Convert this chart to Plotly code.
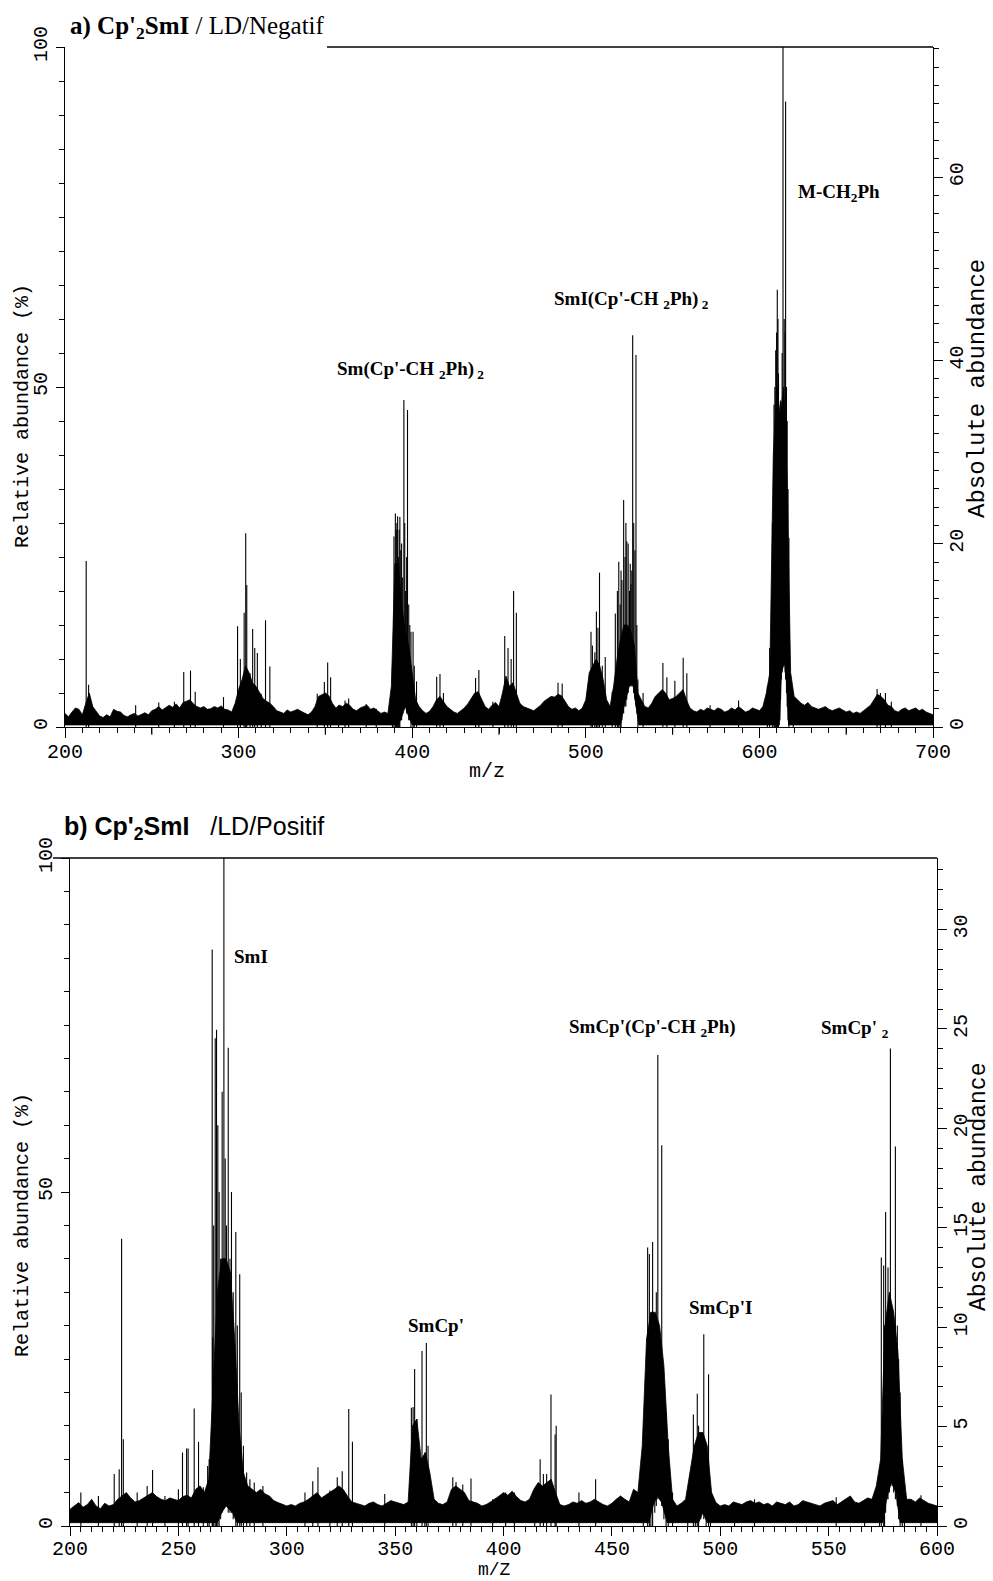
import plotly.graph_objects as go
import numpy as np

W, H = 993, 1581

# ---------------- Panel a : Cp'2SmI / LD / negative ----------------
# upper edge of the noise band (relative abundance %), every 2 m/z from 200 to 700
a_band_start, a_band_step = 200, 2
a_band_top = [
    2.0, 1.5, 2.2, 2.8, 2.6, 1.8, 3.5, 5.0, 3.0, 2.2,
    1.6, 1.4, 1.8, 1.5, 2.6, 2.3, 2.2, 1.7, 1.5, 1.8,
    2.0, 1.6, 1.9, 2.1, 1.8, 2.4, 2.6, 3.0, 2.5, 2.8,
    3.2, 2.9, 3.4, 2.8, 3.6, 3.8, 4.0, 3.4, 3.0, 2.8,
    3.0, 2.6, 2.7, 3.0, 2.8, 3.1, 2.6, 2.5, 2.2, 3.5,
    5.5, 7.0, 9.0, 8.0, 6.5, 6.0, 5.0, 4.2, 3.8, 3.5,
    3.0, 2.4, 2.2, 2.0, 2.5, 2.2, 2.4, 2.6, 2.3, 2.0,
    1.8, 2.2, 3.0, 4.5, 4.8, 5.0, 4.6, 3.5, 2.8, 3.2,
    3.0, 3.5, 3.2, 2.6, 2.4, 2.8, 3.0, 3.2, 2.6, 2.8,
    2.4, 2.0, 2.2, 2.0, 6.0, 24.0, 24.0, 18.0, 14.0, 12.0,
    8.0, 4.0, 3.0, 2.4, 2.0, 2.3, 3.0, 4.0, 4.5, 3.8,
    3.0, 2.6, 2.2, 2.0, 2.4, 2.8, 3.4, 4.2, 5.0, 5.2,
    4.0, 3.0, 2.6, 3.2, 3.6, 3.0, 5.0, 7.5, 6.0, 6.5,
    5.0, 3.5, 3.0, 2.8, 2.6, 2.4, 2.8, 3.2, 3.8, 4.2,
    4.5, 4.4, 4.8, 4.6, 3.8, 3.0, 2.6, 2.8, 2.4, 2.8,
    4.0, 8.0, 9.0, 10.0, 9.0, 7.0, 4.0, 3.0, 6.0, 10.0,
    13.0, 15.0, 15.0, 14.0, 12.0, 5.0, 4.0, 3.0, 2.8, 3.5,
    4.5, 5.0, 5.5, 5.0, 4.0, 4.2, 4.5, 5.0, 5.5, 4.0,
    2.8, 2.4, 2.2, 2.6, 2.4, 2.8, 2.6, 2.4, 2.8, 2.6,
    2.2, 2.4, 2.8, 2.5, 3.0, 2.6, 2.2, 2.4, 2.8, 2.6,
    2.4, 3.0, 5.0, 8.0, 40.0, 50.0, 46.0, 50.0, 36.0, 8.0,
    4.5, 4.0, 3.5, 3.2, 3.6, 3.0, 2.8, 2.6, 2.8, 3.0,
    2.6, 2.4, 2.6, 2.8, 2.5, 2.2, 2.4, 2.0, 2.2, 2.0,
    2.4, 2.8, 3.2, 4.0, 4.8, 4.5, 4.0, 3.2, 3.0, 2.4,
    2.2, 2.6, 2.8, 2.4, 2.6, 2.8, 2.4, 2.6, 2.2, 2.0,
    1.8,
]
# lower edge of the band (m/z, %)
a_band_low = [
    (200, 0.3), (392, 0.3), (394, 1.5), (396, 3.0), (398, 1.5), (400, 0.3),
    (520, 0.3), (522, 3.0), (525, 6.0), (527, 6.5), (529, 3.0), (530.5, 0.3),
    (611.5, 0.3), (612.7, 8.0), (614.5, 9.5), (615.8, 6.0), (616.8, 0.3), (700, 0.3),
]
# individual peaks (m/z, relative abundance %, foot of the stick %)
a_peaks = [
    (212.2, 24.4, 0), (213.6, 6.2, 0), (240.7, 3.2, 0), (254, 3.6, 0), (263, 3.7, 0),
    (268.4, 8.1, 0), (272.3, 8.3, 0), (275, 5.2, 0), (291.3, 4.4, 0),
    (299.4, 14.8, 0), (301, 10, 0), (303.2, 16.8, 0), (304.1, 28.5, 0), (304.7, 20.9, 0),
    (306.6, 7.9, 0), (308.1, 14.4, 0), (309.3, 11.6, 0), (310.8, 10.9, 0), (313, 4.9, 0),
    (315.5, 15.7, 0), (318, 8.9, 0),
    (345.3, 4.9, 0), (349.4, 6.6, 0), (351.3, 9.5, 0), (353, 7.3, 0), (357.6, 3.2, 0),
    (361.3, 3.9, 0), (363.4, 4.2, 0), (373.5, 3.4, 0), (379.3, 2.7, 0),
    (388.6, 8.9, 0), (389.5, 28, 0), (390.3, 31.4, 0), (390.8, 29, 0), (391.2, 30, 0),
    (391.6, 31, 0), (392.0, 25, 0), (392.5, 29, 0), (392.9, 30.9, 0), (393.4, 26, 1),
    (393.9, 27, 1), (394.5, 22, 2), (395.2, 48.1, 3), (395.7, 30, 3), (396.2, 20, 3),
    (396.8, 25, 2), (397.3, 46.6, 2), (398.0, 18, 1), (398.6, 15, 1), (399.3, 14, 0),
    (400.5, 14, 0), (401.2, 9, 0), (402.5, 6.7, 0),
    (414.1, 7.4, 0), (416, 7.8, 0), (418, 5, 0), (436.5, 7.2, 0), (438.4, 8.4, 0), (446.5, 3.7, 0),
    (453.3, 13.4, 0), (455.2, 11.6, 0), (457, 10, 0), (458.4, 20, 0), (460, 16.8, 0),
    (484, 6.5, 0), (486.4, 6.4, 0),
    (503, 14, 0), (503.8, 12, 0), (505.2, 11, 0), (506.1, 17, 0), (507, 14.6, 0),
    (507.9, 22.7, 0), (509.5, 9, 0), (511.2, 10.3, 0), (515.2, 5.2, 0),
    (517, 16.7, 0), (518.2, 20, 0), (519, 24.3, 0), (519.8, 18, 0), (520.3, 23, 0),
    (520.8, 21.6, 1), (521.8, 33.4, 2), (522.6, 25, 3), (523.1, 30, 3), (523.6, 27.3, 4),
    (524.4, 27, 5), (525.2, 20, 6), (525.6, 24, 6), (526, 21, 6), (526.5, 23, 6),
    (527, 57.6, 6), (527.6, 30, 5), (528.3, 26, 4), (528.9, 54.7, 3), (529.4, 15, 2),
    (530, 7, 0), (533, 5, 0),
    (544.4, 9.4, 0), (546.7, 7.3, 0), (551.3, 6.8, 0), (556.1, 10.2, 0), (558.2, 7.9, 0),
    (571.6, 3.2, 0), (588, 3.9, 0),
    (604.6, 6, 0), (605.9, 11.6, 0), (607.5, 30, 0), (608.4, 47.4, 0), (608.9, 50, 0),
    (609.4, 55.4, 0), (609.9, 58, 0), (610.3, 64.3, 0), (610.7, 60, 0), (611, 52, 0),
    (611.8, 45, 1), (612.2, 48, 4), (612.6, 40, 7), (613.1, 55, 8), (613.6, 100, 9),
    (614.3, 60, 9), (614.8, 58, 8), (615.1, 92, 7), (615.6, 50, 5), (616, 45, 3),
    (616.5, 35, 1), (617, 27.8, 0), (619.5, 5, 0),
    (667.8, 5.6, 0), (669.7, 5, 0), (672.6, 5, 0), (676, 3.7, 0),
]
a_labels = [
    ("Sm(Cp'-CH <sub>2</sub>Ph)<sub> 2</sub>", 335, 370),
    ("SmI(Cp'-CH <sub>2</sub>Ph)<sub> 2</sub>", 552, 300),
    ("M-CH<sub>2</sub>Ph", 796, 193),
]

# ---------------- Panel b : Cp'2SmI / LD / positive ----------------
b_band_start, b_band_step = 200, 2
b_band_top = [
    2.5, 3.0, 3.5, 2.8, 3.2, 4.0, 3.0, 2.6, 3.4, 3.0,
    3.2, 4.0, 4.5, 5.0, 4.2, 3.6, 3.8, 4.2, 4.6, 5.0,
    4.4, 4.0, 3.8, 4.2, 4.0, 3.8, 4.4, 4.6, 4.2, 5.5,
    6.0, 5.0, 7.0, 20.0, 35.0, 40.0, 40.0, 38.0, 28.0, 15.0,
    8.0, 6.0, 5.5, 5.0, 5.5, 4.8, 4.5, 3.8, 3.5, 3.2,
    3.0, 3.2, 3.0, 3.4, 3.6, 4.0, 4.5, 5.0, 4.2, 4.6,
    5.0, 5.5, 6.0, 5.5, 4.5, 3.6, 3.4, 3.2, 3.0, 3.4,
    3.6, 3.2, 3.0, 3.4, 3.8, 3.6, 3.4, 3.2, 3.6, 15.0,
    16.0, 10.0, 11.0, 8.0, 4.0, 3.4, 3.2, 3.6, 5.5, 6.0,
    5.5, 5.0, 3.8, 3.6, 3.4, 3.0, 3.2, 3.6, 4.0, 4.5,
    5.0, 4.6, 5.2, 4.4, 3.8, 3.6, 4.0, 5.5, 6.5, 6.0,
    6.5, 7.0, 5.0, 3.2, 3.0, 3.2, 3.6, 3.4, 3.8, 3.4,
    3.6, 4.0, 3.6, 3.2, 3.0, 3.4, 4.0, 4.5, 4.0, 3.6,
    5.5, 5.0, 12.0, 28.0, 32.0, 32.0, 30.0, 24.0, 12.0, 4.0,
    3.0, 3.4, 4.0, 8.0, 12.0, 14.0, 14.0, 12.0, 5.0, 3.5,
    3.0, 3.2, 3.0, 3.6, 3.4, 3.2, 3.6, 3.8, 3.4, 3.6,
    3.2, 3.4, 3.0, 3.6, 3.4, 3.2, 3.6, 3.0, 3.2, 3.8,
    3.6, 3.4, 3.2, 3.0, 3.4, 3.6, 3.8, 3.2, 3.6, 4.0,
    4.5, 3.6, 3.4, 3.8, 4.2, 4.0, 6.0, 10.0, 30.0, 35.0,
    32.0, 26.0, 10.0, 4.0, 4.0, 3.6, 4.2, 3.8, 3.4, 3.2,
    3.0,
]
b_band_low = [
    (200, 0.5), (268, 0.5), (270, 2.0), (272, 3.0), (275, 2.0), (277, 0.5),
    (467, 0.5), (469, 3.0), (471, 4.5), (473, 3.5), (475.5, 0.5),
    (490, 0.5), (492, 2.0), (494, 0.5),
    (575, 0.5), (577, 4.5), (579, 6.5), (581, 5.0), (583, 0.5), (600, 0.5),
]
b_peaks = [
    (205, 5, 0), (213.1, 4.5, 0), (220.4, 7.8, 0), (222.7, 8.5, 0), (223.8, 43, 0), (224.6, 13, 0),
    (231, 5, 0), (235.6, 6, 0), (238.1, 8.4, 0), (243.8, 4.5, 0), (250, 5.5, 0), (251.9, 11, 0),
    (253.8, 11.6, 0), (254.5, 11.6, 0), (257.3, 17.6, 0), (259.3, 12.6, 0), (261.5, 5.8, 0),
    (263.5, 9, 0), (264.2, 10, 0),
    (265.6, 86.3, 0), (265.8, 28.2, 0), (266.3, 45, 0), (267, 73, 0), (267.6, 74.3, 0),
    (268.2, 60, 0), (268.8, 50, 0), (269.5, 40, 1), (270.2, 65, 2), (271, 100, 3),
    (271.6, 55, 3), (272.2, 45, 3), (273, 71.6, 2), (273.8, 40, 2), (274.5, 50, 2),
    (275.3, 35, 1), (276.5, 44, 0), (277.2, 30, 0), (278.3, 37.7, 0), (279, 20, 0),
    (280, 12, 0), (281.5, 8, 0), (283, 7, 0), (285, 6.5, 0), (289, 6, 0),
    (308.4, 5, 0), (312, 6.7, 0), (314.4, 8.8, 0), (319.9, 5.3, 0), (323.3, 7.3, 0),
    (325.6, 8.2, 0), (328.6, 17.5, 0), (330.3, 12.6, 0), (345.2, 4.8, 0),
    (357.5, 17.7, 0), (358.3, 17.8, 0), (359, 23.5, 0), (360, 16, 0), (362.4, 26.2, 0),
    (363.7, 11, 0), (364.4, 27.4, 0), (365.2, 12, 0), (376.6, 7.3, 0), (378.1, 6.6, 0),
    (381.2, 6.2, 0), (385, 7.1, 0), (395, 4, 0),
    (401, 5, 0), (405, 5, 0), (414.4, 5.5, 0), (416.9, 10, 0), (418.4, 7.8, 0), (419.9, 7.8, 0),
    (421.9, 19.7, 0), (423.8, 13.7, 0), (424.3, 15, 0), (434.8, 5, 0), (442.5, 7, 0),
    (464.5, 8, 0), (466.5, 41.7, 0), (467.3, 40.7, 0), (468, 32, 0), (468.8, 42.5, 0),
    (469.8, 30, 2), (470.5, 35, 3), (471.2, 70.5, 4), (472, 25, 4), (473, 57, 3),
    (474, 20, 1), (475, 17, 0), (476, 13, 0), (478, 5, 0), (485, 4.5, 0),
    (487.6, 16.7, 0), (488.5, 12, 0), (489.4, 19.8, 0), (490, 15, 0), (491, 10, 1),
    (492.4, 28.7, 1), (493.5, 12, 0), (494.6, 22.7, 0), (495.5, 5, 0),
    (506.6, 3.5, 0), (515.8, 4, 0), (553.5, 4.3, 0), (566.6, 3.8, 0),
    (573.5, 7.3, 0), (574.3, 40.2, 0), (575.4, 39, 0), (575.8, 30, 0), (576.3, 47, 2),
    (577, 30, 4), (577.4, 38.7, 4), (578, 25, 5), (578.5, 71.5, 6), (579.3, 30, 6),
    (580, 25, 5), (580.8, 56.8, 4), (581.7, 30, 3), (582.3, 25, 1), (583, 20, 0),
    (584, 10, 0), (585, 4, 0), (592.6, 4.6, 0),
]
b_labels = [
    ("SmI", 232, 956),
    ("SmCp'", 406, 1325),
    ("SmCp'(Cp'-CH <sub>2</sub>Ph)", 567, 1028),
    ("SmCp' <sub>2</sub>", 819, 1029),
    ("SmCp'I", 687, 1307),
]

# axis scales
a_xrange, a_rel, a_abs = [200, 700], [0, 100], [0, 74.2]
b_xrange, b_rel, b_abs = [200, 600], [0, 100], [0, 33.6]
a_mid_ticks = [250, 350, 450, 550, 650]


# ---------------- build figure ----------------
def band_polygon(start, step, top, low):
    xs = list(start + step * np.arange(len(top)))
    ys = list(top)
    xs += [p[0] for p in low][::-1]
    ys += [p[1] for p in low][::-1]
    return xs, ys


def stick_path(peaks):
    xs, ys = [], []
    for m, h, b in peaks:
        xs += [m, m, None]
        ys += [b, h, None]
    return xs, ys


fig = go.Figure()
for (start, step, top, low, peaks, xa, ya) in [
    (a_band_start, a_band_step, a_band_top, a_band_low, a_peaks, "x", "y"),
    (b_band_start, b_band_step, b_band_top, b_band_low, b_peaks, "x2", "y3"),
]:
    bx, by = band_polygon(start, step, top, low)
    fig.add_trace(go.Scatter(x=bx, y=by, mode="lines", fill="toself", fillcolor="black",
                             line=dict(color="black", width=0.8), xaxis=xa, yaxis=ya,
                             hoverinfo="skip", showlegend=False))
    sx, sy = stick_path(peaks)
    fig.add_trace(go.Scatter(x=sx, y=sy, mode="lines", line=dict(color="black", width=1.1),
                             xaxis=xa, yaxis=ya, hoverinfo="skip", showlegend=False))

# dummy traces so the right-hand (absolute) axes are drawn
fig.add_trace(go.Scatter(x=[200], y=[0], mode="markers", marker=dict(opacity=0),
                         xaxis="x", yaxis="y2", hoverinfo="skip", showlegend=False))
fig.add_trace(go.Scatter(x=[200], y=[0], mode="markers", marker=dict(opacity=0),
                         xaxis="x2", yaxis="y4", hoverinfo="skip", showlegend=False))

TICKF = dict(family="Liberation Mono", size=20, color="black")
common = dict(showline=True, linecolor="black", linewidth=1.3, ticks="outside",
              tickcolor="black", tickwidth=1.2, showgrid=False, zeroline=False,
              tickfont=TICKF, automargin=False)


def minor(d, t0=0):
    return dict(dtick=d, tick0=t0, ticklen=5, ticks="outside", tickcolor="black",
                tickwidth=1.1, showgrid=False)


TX = [65 / W, 933 / W]
TY = [1 - 727 / H, 1 - 47 / H]
BX = [70 / W, 937 / W]
BY = [1 - 1526 / H, 1 - 858 / H]

fig.update_layout(
    width=W, height=H, margin=dict(l=0, r=0, t=0, b=0, autoexpand=False),
    paper_bgcolor="white", plot_bgcolor="white", showlegend=False,
    xaxis=dict(domain=TX, anchor="y", range=a_xrange, dtick=100, tick0=200,
               ticklen=10, ticklabelstandoff=-4, minor=minor(10, 200), **common),
    yaxis=dict(domain=TY, anchor="x", range=a_rel, tickvals=[0, 50, 100], tickangle=-90,
               ticklen=8, ticklabelstandoff=1, minor=minor(5), **common),
    yaxis2=dict(overlaying="y", side="right", anchor="x", range=a_abs,
                tickvals=[0, 20, 40, 60], tickangle=-90, ticklen=9, ticklabelstandoff=-4,
                minor=minor(2), **common),
    xaxis2=dict(domain=BX, anchor="y3", range=b_xrange, dtick=50, tick0=200, ticklen=9,
                ticklabelstandoff=-5, minor=minor(5, 200), **common),
    yaxis3=dict(domain=BY, anchor="x2", range=b_rel, tickvals=[0, 50, 100], tickangle=-90,
                ticklen=8, ticklabelstandoff=1, minor=minor(5), **common),
    yaxis4=dict(overlaying="y3", side="right", anchor="x2", range=b_abs,
                tickvals=[0, 5, 10, 15, 20, 25, 30], tickangle=-90, ticklen=9,
                ticklabelstandoff=-4, minor=minor(1), **common),
)

# medium-length ticks at the 50s of panel a
for v in a_mid_ticks:
    fig.add_shape(type="line", xref="x", yref="y domain", x0=v, x1=v, y0=0, y1=-0.0115,
                  line=dict(color="black", width=1.2))

# frame top lines
fig.add_shape(type="line", xref="paper", yref="paper", x0=327 / W, x1=933 / W,
              y0=1 - 47 / H, y1=1 - 47 / H, line=dict(color="black", width=1.3))
fig.add_shape(type="line", xref="paper", yref="paper", x0=53 / W, x1=937 / W,
              y0=1 - 858 / H, y1=1 - 858 / H, line=dict(color="black", width=1.3))

ann = []
MONO = "Liberation Mono"
# axis titles
ann.append(dict(text="Relative abundance (%)", x=22 / W, y=1 - 416 / H, textangle=-90,
                font=dict(family=MONO, size=20, color="black")))
ann.append(dict(text="Absolute abundance", x=977 / W, y=1 - 389 / H, textangle=-90,
                font=dict(family=MONO, size=24, color="black")))
ann.append(dict(text="m/z", x=487 / W, y=1 - 771 / H,
                font=dict(family=MONO, size=20, color="black")))
ann.append(dict(text="Relative abundance (%)", x=22 / W, y=1 - 1225 / H, textangle=-90,
                font=dict(family=MONO, size=20, color="black")))
ann.append(dict(text="Absolute abundance", x=979 / W, y=1 - 1187 / H, textangle=-90,
                font=dict(family=MONO, size=23, color="black")))
ann.append(dict(text="m/Z", x=494 / W, y=1 - 1570 / H,
                font=dict(family=MONO, size=18, color="black")))
# panel titles
ann.append(dict(text="<b>a) Cp'<sub>2</sub>SmI</b> / LD/Negatif", x=68 / W, y=1 - 27 / H,
                xanchor="left", font=dict(family="Liberation Serif", size=25, color="black")))
ann.append(dict(text="<b>b) Cp'<sub>2</sub>SmI</b>\u00a0\u00a0\u00a0/LD/Positif", x=62 / W,
                y=1 - 828 / H, xanchor="left",
                font=dict(family="Liberation Sans", size=25, color="black")))
# peak labels
for txt, px, py in a_labels + b_labels:
    ann.append(dict(text="<b>" + txt + "</b>", x=px / W, y=1 - py / H, xanchor="left",
                    font=dict(family="Liberation Serif", size=19, color="black")))

for a in ann:
    a.update(xref="paper", yref="paper", showarrow=False)
    a.setdefault("xanchor", "center")
    a.setdefault("yanchor", "middle")
fig.update_layout(annotations=ann)

fig.write_html(
    "out.html",
    config={"displayModeBar": False},
    post_script="document.body.style.margin='0px';document.body.style.overflow='hidden';",
)
